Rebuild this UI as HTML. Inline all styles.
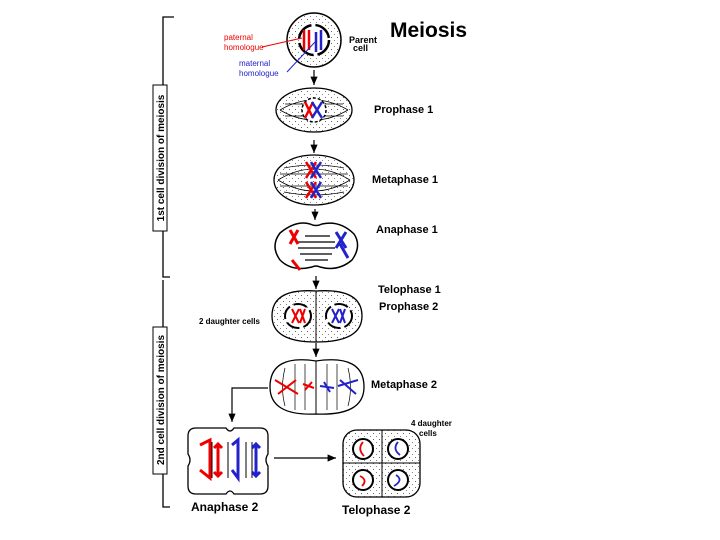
<!DOCTYPE html>
<html><head><meta charset="utf-8"><style>
html,body{margin:0;padding:0;background:#fff;}
svg{display:block;font-family:"Liberation Sans",Arial,sans-serif;}
</style></head><body>
<svg width="720" height="540" viewBox="0 0 720 540" xmlns="http://www.w3.org/2000/svg">
<defs>
<pattern id="dots" width="6" height="6" patternUnits="userSpaceOnUse">
<rect x="1" y="1" width="1" height="1" fill="#666"/><rect x="4" y="4" width="1" height="1" fill="#888"/>
</pattern>
<marker id="ah" markerWidth="8" markerHeight="8" refX="7" refY="4" orient="auto"><path d="M0,1 L7,4 L0,7 Z" fill="#000"/></marker>
</defs>
<g stroke="#000" fill="none" stroke-width="1.3">
<path d="M174,17 H163 V277 H170"/>
<path d="M163,280 V507 H170"/>
</g>
<rect x="153" y="85" width="14" height="146" fill="#fff" stroke="#000"/>
<rect x="153" y="327" width="14" height="147" fill="#fff" stroke="#000"/>
<text transform="translate(164,158) rotate(-90)" text-anchor="middle" font-size="10" font-weight="bold">1st cell division of meiosis</text>
<text transform="translate(164,400) rotate(-90)" text-anchor="middle" font-size="10" font-weight="bold">2nd cell division of meiosis</text>

<!-- Parent cell -->
<circle cx="314" cy="40" r="27" fill="url(#dots)" stroke="#000" stroke-width="1.5"/>
<circle cx="314" cy="40" r="15" fill="#fff" stroke="#000" stroke-width="2.5" stroke-dasharray="20 4"/>
<path d="M304,30 V50 M309,30 V50" stroke="#e00" stroke-width="2.5"/>
<path d="M316,32 V52 M321,30 V50" stroke="#22c" stroke-width="2.5"/>
<line x1="262" y1="47" x2="302" y2="38" stroke="#e00"/>
<line x1="287" y1="72" x2="315" y2="42" stroke="#22c"/>
<text x="224" y="40" font-size="8" fill="#e00">paternal</text>
<text x="224" y="50" font-size="8" fill="#e00">homologue</text>
<text x="239" y="66" font-size="8" fill="#22c">maternal</text>
<text x="239" y="76" font-size="8" fill="#22c">homologue</text>
<text x="349" y="43" font-size="9" font-weight="bold">Parent</text>
<text x="353" y="51" font-size="9" font-weight="bold">cell</text>
<text x="390" y="37" font-size="21" font-weight="bold">Meiosis</text>

<g stroke="#000" stroke-width="1.2" marker-end="url(#ah)">
<line x1="314" y1="70" x2="314" y2="85"/>
<line x1="314" y1="140" x2="314" y2="153"/>
<line x1="315" y1="209" x2="315" y2="220"/>
<line x1="316" y1="276" x2="316" y2="289"/>
<line x1="316" y1="343" x2="316" y2="357"/>
<polyline points="268,388 232,388 232,422" fill="none"/>
<line x1="274" y1="458" x2="336" y2="458"/>
</g>

<!-- Prophase 1 -->
<ellipse cx="314" cy="110" rx="38" ry="22" fill="url(#dots)" stroke="#000" stroke-width="1.3"/>
<g stroke="#000" stroke-width="0.8" fill="none">
<path d="M280,110 Q314,90 348,110 M280,110 Q314,130 348,110 M285,104 H343 M285,116 H343"/>
</g>
<circle cx="314" cy="110" r="12" fill="#fff" stroke="#000" stroke-width="1.5" stroke-dasharray="3 2"/>
<path d="M305,102 L313,118 M313,102 L305,118" stroke="#e00" stroke-width="2.5"/>
<path d="M312,102 L322,118 M322,102 L312,118" stroke="#22c" stroke-width="2.5"/>
<text x="374" y="113" font-size="11" font-weight="bold">Prophase 1</text>

<!-- Metaphase 1 -->
<ellipse cx="314" cy="180" rx="40" ry="25" fill="url(#dots)" stroke="#000" stroke-width="1.3"/>
<g stroke="#000" stroke-width="0.8" fill="none">
<path d="M278,180 Q314,158 350,180 M278,180 Q314,202 350,180 M280,174 H348 M280,186 H348 M284,168 Q314,162 344,168 M284,192 Q314,198 344,192"/>
</g>
<path d="M306,162 L316,178 M316,162 L306,178 M306,182 L316,198 M316,182 L306,198" stroke="#e00" stroke-width="2.5"/>
<path d="M311,162 L321,178 M321,162 L311,178 M311,182 L321,198 M321,182 L311,198" stroke="#22c" stroke-width="2.5"/>
<text x="372" y="183" font-size="11" font-weight="bold">Metaphase 1</text>

<!-- Anaphase 1 -->
<path d="M280,233 Q296,220 310,224 Q316,227 322,224 Q340,220 354,234 Q362,246 352,260 Q338,272 320,267 Q316,265 312,267 Q292,272 280,260 Q270,246 280,233 Z" fill="#fff" stroke="#000" stroke-width="1.5"/>
<g stroke="#000" stroke-width="1.2"><path d="M305,236 H330 M298,242 H335 M298,248 H335 M300,254 H332 M305,260 H328"/></g>
<path d="M290,230 L298,244 M298,230 L290,244 M292,260 L300,270" stroke="#e00" stroke-width="3"/>
<path d="M336,232 L346,248 M346,232 L336,248 M340,244 L348,258" stroke="#22c" stroke-width="3"/>
<text x="376" y="233" font-size="11" font-weight="bold">Anaphase 1</text>

<!-- Telophase 1 -->
<path d="M316,291 Q272,288 272,316 Q272,342 316,342 Q362,342 362,316 Q362,288 316,291 Z" fill="url(#dots)" stroke="#000" stroke-width="1.3"/>
<line x1="316" y1="291" x2="316" y2="342" stroke="#000"/>
<ellipse cx="298" cy="316" rx="13" ry="12" fill="#fff" stroke="#000" stroke-width="2" stroke-dasharray="14 4"/>
<ellipse cx="339" cy="316" rx="13" ry="12" fill="#fff" stroke="#000" stroke-width="2" stroke-dasharray="14 4"/>
<path d="M292,309 L299,323 M299,309 L292,323 M300,309 L305,323 M305,309 L300,323" stroke="#e00" stroke-width="2"/>
<path d="M332,309 L339,323 M339,309 L332,323 M340,309 L345,323 M345,309 L340,323" stroke="#22c" stroke-width="2"/>
<text x="378" y="293" font-size="11" font-weight="bold">Telophase 1</text>
<text x="379" y="310" font-size="11" font-weight="bold">Prophase 2</text>
<text x="199" y="324" font-size="8" font-weight="bold">2 daughter cells</text>

<!-- Metaphase 2 -->
<path d="M316,361 Q270,354 270,387 Q270,416 316,414 Q364,416 364,387 Q364,354 316,361 Z" fill="#fff" stroke="#000" stroke-width="1.3"/>
<line x1="316" y1="361" x2="316" y2="414" stroke="#000"/>
<g stroke="#000" stroke-width="0.7" fill="none">
<path d="M285,368 Q280,387 285,406 M295,364 V410 M305,364 V410 M327,364 V410 M337,364 V410 M348,368 Q353,387 348,406"/>
</g>
<path d="M275,380 L298,394 M278,394 L296,380 M303,384 L314,388 M305,390 L312,382" stroke="#e00" stroke-width="2"/>
<path d="M320,386 L334,388 M324,382 L330,392 M338,386 L358,380 M340,380 L356,394" stroke="#22c" stroke-width="2"/>
<text x="371" y="388" font-size="11" font-weight="bold">Metaphase 2</text>

<!-- Anaphase 2 -->
<path d="M196,428 H226 Q230,434 234,428 H260 Q268,428 268,436 V454 Q264,460 268,466 V486 Q268,494 260,494 H234 Q230,488 226,494 H196 Q188,494 188,486 V466 Q192,460 188,454 V436 Q188,428 196,428 Z" fill="#fff" stroke="#000" stroke-width="1.3"/>
<g stroke="#000" stroke-width="1"><path d="M212,442 V478 M228,442 V478 M246,442 V478 M252,442 V478"/></g>
<path d="M200,445 L210,440 V478 L200,470 M218,445 V475 M214,448 L218,444 L222,448 M214,472 L218,476 L222,472" stroke="#e00" stroke-width="3" fill="none"/>
<path d="M232,445 L238,440 V478 L232,470 M256,445 V475 M252,448 L256,444 L260,448 M252,472 L256,476 L260,472" stroke="#22c" stroke-width="3" fill="none"/>
<text x="191" y="511" font-size="12" font-weight="bold">Anaphase 2</text>

<!-- Telophase 2 -->
<rect x="343" y="430" width="77" height="67" rx="14" fill="url(#dots)" stroke="#000" stroke-width="1.3"/>
<line x1="382" y1="430" x2="382" y2="497" stroke="#000"/>
<line x1="343" y1="463" x2="420" y2="463" stroke="#000"/>
<g fill="#fff" stroke="#000" stroke-width="2">
<circle cx="363" cy="449" r="10"/><circle cx="398" cy="449" r="10"/>
<circle cx="363" cy="480" r="10"/><circle cx="398" cy="480" r="10"/>
</g>
<path d="M363,442 Q357,449 364,456 M360,476 Q368,480 362,486" stroke="#e00" stroke-width="1.8" fill="none"/>
<path d="M398,442 Q392,449 400,455 M396,475 Q404,480 394,486" stroke="#22c" stroke-width="1.8" fill="none"/>
<text x="342" y="514" font-size="12" font-weight="bold">Telophase 2</text>
<text x="411" y="426" font-size="8" font-weight="bold">4 daughter</text>
<text x="419" y="436" font-size="8" font-weight="bold">cells</text>
</svg>
</body></html>
